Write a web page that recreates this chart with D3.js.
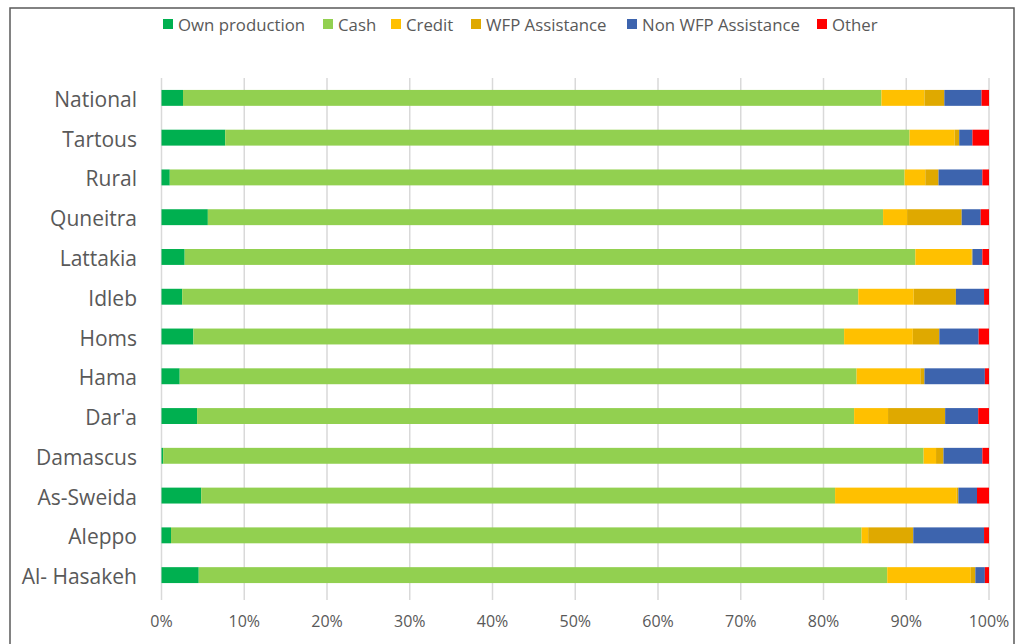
<!DOCTYPE html>
<html><head><meta charset="utf-8">
<script src="https://cdn.jsdelivr.net/npm/d3@7"></script>
<style>body{margin:0;background:#fff}svg{display:block}</style>
</head><body><svg id="c" width="1022" height="644"></svg>
<script>
const categories = ["National","Tartous","Rural","Quneitra","Lattakia","Idleb","Homs","Hama","Dar'a","Damascus","As-Sweida","Aleppo","Al- Hasakeh"];
const seriesNames = ["Own production","Cash","Credit","WFP Assistance","Non WFP Assistance","Other"];
const ownProduction = [2.6, 7.7, 1.0, 5.6, 2.8, 2.5, 3.85, 2.2, 4.3, 0.2, 4.8, 1.15, 4.5];
const cash          = [84.4, 82.7, 88.8, 81.6, 88.3, 81.7, 78.6, 81.8, 79.4, 91.9, 76.6, 83.45, 83.2];
const credit        = [5.2, 5.45, 2.5, 2.9, 6.8, 6.7, 8.3, 7.7, 4.1, 1.5, 14.7, 0.8, 10.1];
const wfpAssistance = [2.4, 0.55, 1.6, 6.6, 0.1, 5.1, 3.2, 0.5, 6.9, 0.9, 0.2, 5.45, 0.55];
const nonWfpAssist  = [4.5, 1.6, 5.3, 2.3, 1.2, 3.4, 4.75, 7.3, 4.0, 4.7, 2.25, 8.55, 1.15];
const other         = [0.9, 2.0, 0.8, 1.0, 0.8, 0.6, 1.25, 0.5, 1.3, 0.8, 1.45, 0.6, 0.5];
const tickLabels = ["0%","10%","20%","30%","40%","50%","60%","70%","80%","90%","100%"];
const colors = ["#00B050","#92D050","#FFC000","#DFA900","#3D64AE","#FF0000"];

const seriesValues = [ownProduction, cash, credit, wfpAssistance, nonWfpAssist, other];
const rows = categories.map((c,i)=>{
  const r = {cat:c};
  let tot = 0;
  seriesNames.forEach((s,j)=>{ tot += seriesValues[j][i]; });
  seriesNames.forEach((s,j)=>{ r[s] = seriesValues[j][i]/tot; });
  return r;
});

const svg = d3.select("#c");
const font = "'Open Sans', sans-serif";
const grey = "#595959";

// outer frame
svg.append("rect").attr("x",10).attr("y",8).attr("width",1004).attr("height",650)
  .attr("fill","#fff").attr("stroke","#595959").attr("stroke-width",1.5);

const x = d3.scaleLinear().domain([0,1]).range([161.5, 989]);
const y = d3.scaleBand().domain(categories).range([78, 595]).paddingInner(0.6).paddingOuter(0.3);

// gridlines
const ticks = d3.range(0, 1.0001, 0.1);
svg.append("g").selectAll("line").data(ticks).join("line")
  .attr("x1",d=>x(d)).attr("x2",d=>x(d)).attr("y1",78).attr("y2",600)
  .attr("stroke","#d9d9d9").attr("stroke-width",1.5);

// x tick labels
svg.append("g").selectAll("text").data(ticks).join("text")
  .attr("x",d=>x(d)).attr("y",627).attr("text-anchor","middle")
  .attr("font-family",font).attr("font-size",16).attr("fill",grey)
  .text((d,i)=>tickLabels[i]);

// stacks
const stack = d3.stack().keys(seriesNames);
const stacked = stack(rows);
svg.append("g").selectAll("g").data(stacked).join("g")
  .attr("fill",(d,i)=>colors[i])
  .selectAll("rect").data(d=>d).join("rect")
  .attr("x",d=>x(d[0])).attr("width",d=>Math.max(0,x(d[1])-x(d[0])))
  .attr("y",d=>y(d.data.cat)).attr("height",y.bandwidth());

// category labels
svg.append("g").selectAll("text").data(categories).join("text")
  .attr("x",137).attr("y",d=>y(d)+y.bandwidth()/2+1.5).attr("dy","0.36em")
  .attr("text-anchor","end").attr("font-family",font).attr("font-size",21).attr("fill",grey)
  .text(d=>d);

// legend
const legendX = [163, 323, 391, 471, 627, 817];
const lg = svg.append("g").selectAll("g").data(seriesNames).join("g")
  .attr("transform",(d,i)=>`translate(${legendX[i]},19)`);
lg.append("rect").attr("width",10).attr("height",10).attr("fill",(d,i)=>colors[i]);
lg.append("text").attr("x",15).attr("y",5.5).attr("dy","0.36em")
  .attr("font-family",font).attr("font-size",16.8).attr("fill",grey).text(d=>d);
</script></body></html>
